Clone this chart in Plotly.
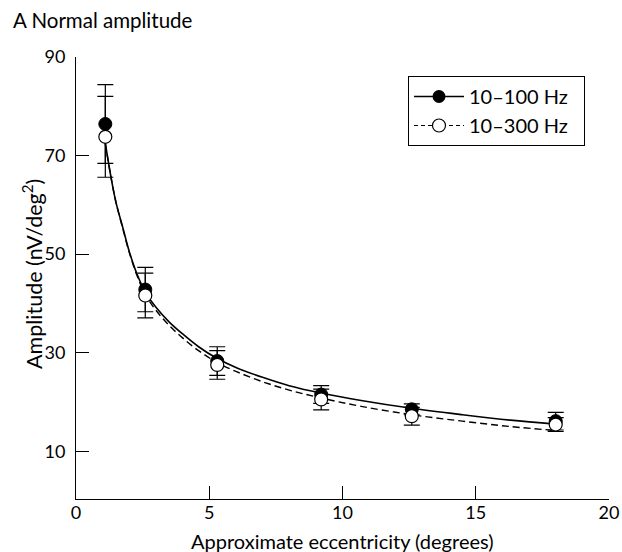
import plotly.graph_objects as go

# Measured points
ecc = [1.1, 2.6, 5.3, 9.2, 12.6, 18.0]
amp_100 = [76.4, 42.8, 28.3, 21.5, 18.5, 16.1]
err_100 = [8.0, 4.5, 2.9, 1.8, 1.1, 1.8]
amp_300 = [73.8, 41.6, 27.5, 20.5, 17.1, 15.4]
err_300 = [8.2, 4.55, 2.9, 2.1, 1.8, 1.4]

# Fitted curves
curve_x = [1.1, 1.3, 1.5, 1.75, 2.0, 2.3, 2.6, 3.0, 3.5, 4.0, 4.6, 5.3, 6.0, 7.0, 8.0, 9.2, 10.7, 12.6, 14.5, 16.3, 18.0]
curve_100 = [72.5, 66.0, 60.5, 55.5, 50.5, 45.8, 42.3, 39.2, 36.2, 33.8, 31.2, 28.8, 27.0, 25.0, 23.3, 21.8, 20.3, 18.7, 17.4, 16.3, 15.5]
curve_300 = [72.5, 66.0, 60.5, 55.3, 50.3, 45.5, 41.8, 38.6, 35.5, 33.0, 30.4, 28.0, 26.2, 24.1, 22.4, 20.8, 19.1, 17.4, 16.1, 15.0, 14.2]

labels = ["10\u2013100 Hz\u00a0\u00a0", "10\u2013300 Hz\u00a0\u00a0"]
x_ticks = [0, 5, 10, 15, 20]
y_ticks = [10, 30, 50, 70, 90]
title_text = "A Normal amplitude"
x_title = "Approximate eccentricity (degrees)"
y_title = "Amplitude (nV/deg<sup>2</sup>)"

FONT = "Lato"
W, H = 622, 552
ML, MR, MT, MB = 76, 13, 57, 53
PW, PH = W - ML - MR, H - MT - MB

fig = go.Figure()

fig.add_trace(go.Scatter(x=curve_x, y=curve_100, mode="lines", line=dict(color="black", width=1.6, shape="spline"),
                         showlegend=False, hoverinfo="skip"))
fig.add_trace(go.Scatter(x=curve_x, y=curve_300, mode="lines", line=dict(color="black", width=1.4, dash="7px,4px", shape="spline"),
                         showlegend=False, hoverinfo="skip"))

fig.add_trace(go.Scatter(x=ecc, y=amp_100, mode="markers",
                         marker=dict(symbol="circle", size=13, color="black", line=dict(color="black", width=1)),
                         error_y=dict(type="data", array=err_100, visible=True, color="black", thickness=1.2, width=8),
                         showlegend=False))
fig.add_trace(go.Scatter(x=ecc, y=amp_300, mode="markers",
                         marker=dict(symbol="circle", size=13, color="white", line=dict(color="black", width=1.2)),
                         error_y=dict(type="data", array=err_300, visible=True, color="black", thickness=1.2, width=8),
                         showlegend=False))

# legend entries
fig.add_trace(go.Scatter(x=[None], y=[None], mode="lines+markers", name=labels[0],
                         line=dict(color="black", width=1.6),
                         marker=dict(symbol="circle", size=13, color="black")))
fig.add_trace(go.Scatter(x=[None], y=[None], mode="lines+markers", name=labels[1],
                         line=dict(color="black", width=1.2, dash="4px,3px"),
                         marker=dict(symbol="circle", size=13, color="white", line=dict(color="black", width=1.2))))

fig.update_layout(
    width=W, height=H,
    margin=dict(l=ML, r=MR, t=MT, b=MB, autoexpand=False),
    paper_bgcolor="white", plot_bgcolor="white",
    font=dict(family=FONT, size=18, color="black"),
    legend=dict(x=(408 - ML) / PW, y=1 - (76 - MT) / PH, xanchor="left", yanchor="top",
                bordercolor="black", borderwidth=1,
                bgcolor="white", font=dict(size=20), tracegroupgap=0, itemwidth=50),
    showlegend=True,
    annotations=[
        dict(text=title_text, xref="paper", yref="paper", x=(11 - ML) / PW, y=1 + (MT - 20) / PH,
             xanchor="left", yanchor="middle", showarrow=False, font=dict(size=20.5)),
        dict(text=x_title, xref="paper", yref="paper", x=(342 - ML) / PW, y=-(541 - (H - MB)) / PH,
             xanchor="center", yanchor="middle", showarrow=False, font=dict(size=20)),
        dict(text=y_title, xref="paper", yref="paper", x=-(ML - 32) / PW, y=1 - (274 - MT) / PH,
             xanchor="center", yanchor="middle", showarrow=False, textangle=-90, font=dict(size=21.5)),
    ],
)
fig.update_xaxes(range=[0, 20], tickvals=x_ticks, showgrid=False, zeroline=False, showline=True,
                 linecolor="black", linewidth=1, ticks="inside", ticklen=13, tickcolor="black",
                 automargin=False, ticklabelstandoff=-3)
fig.update_yaxes(range=[0.3, 90], tickvals=y_ticks, showgrid=False, zeroline=False, showline=True,
                 linecolor="black", linewidth=1, ticks="inside", ticklen=13, tickcolor="black",
                 automargin=False, ticklabelstandoff=6)

fig.write_html("out.html", config={"displayModeBar": False},
               post_script="document.body.style.margin='0';document.body.style.overflow='hidden';")
